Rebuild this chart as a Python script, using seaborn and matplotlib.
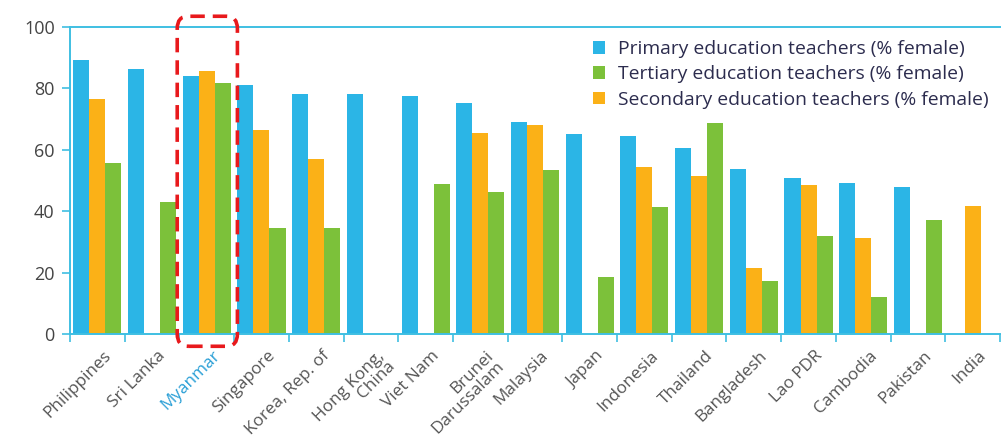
import matplotlib
matplotlib.use("Agg")
import matplotlib.pyplot as plt
import numpy as np
import pandas as pd
import seaborn as sns
from matplotlib.patches import FancyBboxPatch, Patch
from matplotlib.ticker import FixedLocator
import matplotlib.transforms as mtransforms

countries = ["Philippines", "Sri Lanka", "Myanmar", "Singapore", "Korea, Rep. of",
             "Hong Kong,\nChina", "Viet Nam", "Brunei\nDarussalam", "Malaysia", "Japan",
             "Indonesia", "Thailand", "Bangladesh", "Lao PDR", "Cambodia", "Pakistan", "India"]
primary = [89.3, 86.4, 84.0, 81.0, 78.2, 78.2, 77.5, 75.1, 69.2, 65.1,
           64.6, 60.5, 53.7, 50.9, 49.1, 47.9, np.nan]
secondary = [76.4, np.nan, 85.8, 66.4, 57.1, np.nan, np.nan, 65.6, 68.1, np.nan,
             54.5, 51.5, 21.4, 48.5, 31.4, np.nan, 41.7]
tertiary = [55.6, 43.1, 81.6, 34.6, 34.6, np.nan, 49.0, 46.4, 53.3, 18.5,
            41.5, 68.8, 17.3, 31.9, 12.0, 37.2, np.nan]

series_names = ["Primary education teachers (% female)",
                "Secondary education teachers (% female)",
                "Tertiary education teachers (% female)"]
colors = {series_names[0]: "#2bb5e6",
          series_names[1]: "#fbb117",
          series_names[2]: "#7cc13a"}
axis_color = "#3fbfe2"

df = pd.DataFrame({
    "country": countries * 3,
    "series": [series_names[0]] * len(countries) + [series_names[1]] * len(countries)
              + [series_names[2]] * len(countries),
    "value": primary + secondary + tertiary,
})

sns.set_theme(style="white")
plt.rcParams["font.family"] = ["Open Sans", "DejaVu Sans"]

fig = plt.figure(figsize=(10.02, 4.37), dpi=100)
ax = fig.add_axes([70 / 1002, 1 - 334 / 437, 930 / 1002, 307 / 437])

sns.barplot(data=df, x="country", y="value", hue="series", hue_order=series_names,
            order=countries, palette=colors, width=0.88, ax=ax, legend=False,
            saturation=1, errorbar=None, linewidth=0, edgecolor="none")

ax.set_xlim(-0.5, len(countries) - 0.5)
ax.set_ylim(0, 100)
ax.set_yticks([0, 20, 40, 60, 80, 100])
ax.set_xlabel("")
ax.set_ylabel("")

for side in ["left", "top", "bottom"]:
    ax.spines[side].set_color(axis_color)
    ax.spines[side].set_linewidth(1.4)
ax.spines["right"].set_visible(False)

ax.tick_params(axis="y", which="major", length=6, width=1.2, color=axis_color,
               labelsize=13, labelcolor="#444444", pad=5, left=True)
ax.tick_params(axis="x", which="major", length=0, labelsize=12.3,
               labelcolor="#555555", pad=10)
ax.xaxis.set_minor_locator(FixedLocator(np.arange(-0.5, len(countries) - 0.4, 1.0)))
ax.tick_params(axis="x", which="minor", length=6, width=1.2, color=axis_color,
               bottom=True)

offset = mtransforms.ScaledTranslation(4 / 72, 0, fig.dpi_scale_trans)
for lab in ax.get_xticklabels():
    lab.set_rotation(45)
    lab.set_ha("right")
    lab.set_rotation_mode("anchor")
    lab.set_linespacing(0.9)
    lab.set_transform(lab.get_transform() + offset)
    if lab.get_text() == "Myanmar":
        lab.set_color("#2a9fd6")

# Dashed highlight around Myanmar
box = FancyBboxPatch((1.46, -4.0), 1.1, 107.5,
                     boxstyle="round,pad=0,rounding_size=0.2",
                     mutation_aspect=20,
                     fill=False, edgecolor="#e8191c", linewidth=2.6,
                     linestyle=(0, (4, 2.2)), clip_on=False, zorder=5)
ax.add_patch(box)

legend_order = [series_names[0], series_names[2], series_names[1]]
handles = [Patch(facecolor=colors[n], edgecolor="none") for n in legend_order]
ax.legend(handles, legend_order, loc="upper right", bbox_to_anchor=(1.0, 0.995),
          frameon=False, fontsize=13.9, labelcolor="#2c2c4e", handlelength=0.62,
          handleheight=0.62, handletextpad=0.65, labelspacing=0.38, borderaxespad=0.2)

fig.savefig("out.png", dpi=100)
